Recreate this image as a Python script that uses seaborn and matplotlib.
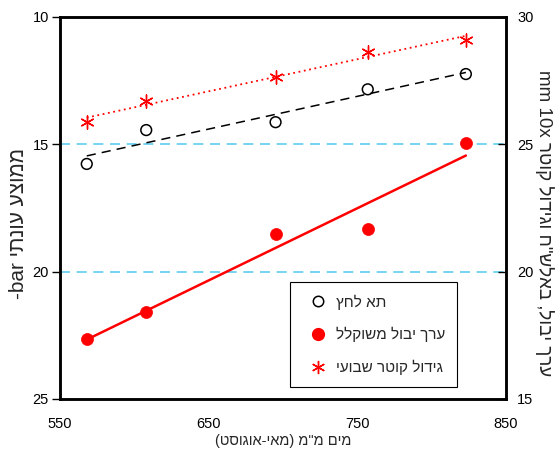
import numpy as np
import pandas as pd
import matplotlib
matplotlib.use("Agg")
import matplotlib.pyplot as plt
import seaborn as sns
from matplotlib.lines import Line2D

# values
water_mm = [568, 608, 695, 757, 823]
chamber_bar = [15.77, 14.44, 14.13, 12.84, 12.24]      # left axis (inverted)
yield_value = [17.35, 18.43, 21.48, 21.68, 25.04]      # right axis
diam_growth = [25.88, 26.69, 27.66, 28.61, 29.10]      # right axis

x_ticks = [550, 650, 750, 850]
left_ticks = [10, 15, 20, 25]
right_ticks = [15, 20, 25, 30]


def vis(s):
    # hebrew in visual (left to right) order, matplotlib has no bidi
    s = s[::-1]
    return s.translate(str.maketrans("()", ")("))


lbl_chamber = vis("תא לחץ")
lbl_yield = vis("ערך יבול משוקלל")
lbl_growth = vis("גידול קוטר שבועי")
xlabel = vis('מים מ"מ (מאי-אוגוסט)')
ylabel_left = "-bar " + vis("ממוצע עונתי")
ylabel_right = "mm 10x " + vis('ערך יבול, באלש"ח וגידול קוטר')

df = pd.DataFrame({"water": water_mm, "chamber": chamber_bar,
                   "yield": yield_value, "growth": diam_growth})

sns.set_style("white")
plt.rcParams["font.family"] = ["Liberation Sans", "DejaVu Sans"]
plt.rcParams["font.size"] = 10.5

fig = plt.figure(figsize=(5.58, 4.59), dpi=100)
ax = fig.add_axes([60 / 558, 1 - 399 / 459, 446 / 558, 382 / 459])
ax2 = ax.twinx()

cyan = "#5ccdf0"
ax.axhline(15, color=cyan, ls=(0, (6, 4)), lw=1.2, zorder=1)
ax.axhline(20, color=cyan, ls=(0, (6, 4)), lw=1.2, zorder=1)

# pressure chamber (left axis)
sns.regplot(data=df, x="water", y="chamber", ax=ax, scatter=False, ci=None,
            color="black", line_kws=dict(ls=(0, (6, 4)), lw=1.1))
sns.scatterplot(data=df, x="water", y="chamber", ax=ax, marker="o", s=60,
                facecolor="none", edgecolor="black", linewidth=1.1, zorder=3)

# yield and growth (right axis)
sns.regplot(data=df, x="water", y="yield", ax=ax2, scatter=False, ci=None,
            color="red", line_kws=dict(lw=1.8))
sns.scatterplot(data=df, x="water", y="yield", ax=ax2, marker="o", s=75,
                color="red", edgecolor="red", linewidth=0.5, zorder=3)
sns.regplot(data=df, x="water", y="growth", ax=ax2, scatter=False, ci=None,
            color="red", line_kws=dict(ls=(0, (1, 2)), lw=1.3))
sns.scatterplot(data=df, x="water", y="growth", ax=ax2, marker=(6, 2, 0), s=90,
                color="red", linewidth=1.0, zorder=3)

ax.set_xlim(550, 850)
ax.set_xticks(x_ticks)
ax.set_ylim(25, 10)
ax.set_yticks(left_ticks)
ax2.set_ylim(15, 30)
ax2.set_yticks(right_ticks)

ax.set_xlabel(xlabel, fontsize=10.5, labelpad=2)
ax.set_ylabel(ylabel_left, fontsize=15)
ax2.set_ylabel(ylabel_right, fontsize=13.5, rotation=270)
ax.yaxis.set_label_coords(-0.072, 0.46)
ax2.yaxis.set_label_coords(1.108, 0.46)

ax.tick_params(axis="y", direction="out", length=6, width=1, pad=2, colors="black")
ax.tick_params(axis="x", direction="in", length=6, width=1, pad=13, colors="black")
ax2.tick_params(axis="y", direction="in", length=6, width=1, pad=8, colors="black")

for a in (ax, ax2):
    for sp in a.spines.values():
        sp.set_color("black")
        sp.set_linewidth(1.8)

handles = [
    Line2D([], [], ls="none", marker="o", ms=7.5, mfc="none", mec="black", mew=1.1),
    Line2D([], [], ls="none", marker="o", ms=8.5, mfc="red", mec="red"),
    Line2D([], [], ls="none", marker=(6, 2, 0), ms=9.5, mec="red", mew=1.0),
]
leg = ax2.legend(handles, [lbl_chamber, lbl_yield, lbl_growth],
                 loc="upper left", bbox_to_anchor=(0.516, 0.306),
                 frameon=True, fancybox=False, framealpha=1, edgecolor="black",
                 fontsize=11, borderpad=0.8, handlelength=2.1,
                 handletextpad=0.1, labelspacing=1.15, borderaxespad=0)
leg.get_frame().set_linewidth(0.8)

fig.savefig("out.png", dpi=100)
